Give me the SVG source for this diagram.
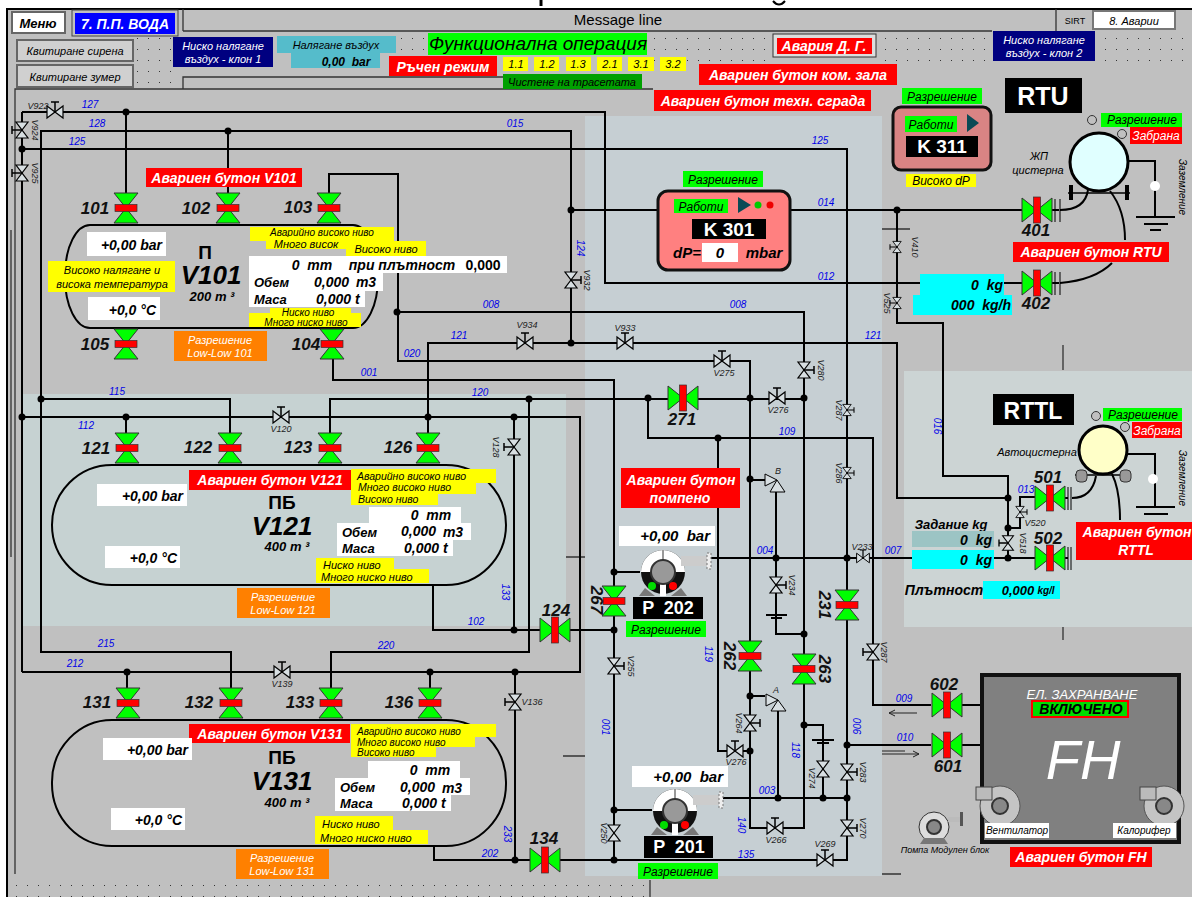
<svg xmlns="http://www.w3.org/2000/svg" width="1192" height="897" viewBox="0 0 1192 897">
<style>
text{font-family:"Liberation Sans",Arial,sans-serif;text-anchor:middle;fill:#000}
.i{font-style:italic}
.bi{font-style:italic;font-weight:bold}
.w{fill:#fff}
.r{text-anchor:end}
.l{text-anchor:start}
.b{font-size:10px;font-style:italic;fill:#0000e8}
.s{font-size:9px;fill:#222}
.n{font-size:17px;font-style:italic;font-weight:bold;fill:#111}
.red{fill:#f00}.yel{fill:#ff0}.grn{fill:#0f0}.wht{fill:#fff}.org{fill:#ff8000}.cya{fill:#0ff}.nav{fill:#000080}.tea{fill:#55bccb}
.p{fill:none;stroke:#000;stroke-width:2}
.j{fill:#000}
.tank{fill:none;stroke:#000;stroke-width:2}
</style>
<defs>
<pattern id="dots" width="11" height="11" patternUnits="userSpaceOnUse"><rect x="5" y="5" width="1" height="1" fill="#333"/></pattern>
<g id="vv"><polygon points="-12,-15 12,-15 0,0" fill="#0f0" stroke="#333"/><polygon points="-12,15 12,15 0,0" fill="#0f0" stroke="#333"/><rect x="-11" y="-3.5" width="22" height="7" fill="#f00" stroke="#333" stroke-width=".7"/></g>
<g id="hv"><polygon points="-15,-12 -15,12 0,0" fill="#0f0" stroke="#333"/><polygon points="15,-12 15,12 0,0" fill="#0f0" stroke="#333"/><rect x="-3.5" y="-13" width="7" height="26" fill="#f00" stroke="#333" stroke-width=".7"/></g>
<g id="sv"><polygon points="-8,-6 8,6 8,-6 -8,6" fill="#d8dfe2" stroke="#000" stroke-width="1.2"/><path d="M0,0V-10M-4,-10H4" stroke="#000" stroke-width="1.5"/></g>
<g id="sv0"><polygon points="-8,-6 8,6 8,-6 -8,6" fill="#d8dfe2" stroke="#000" stroke-width="1.2"/></g>
<g id="pump"><circle r="22" fill="#111"/><path d="M-22,0A22,22 0 0 1 22,0H12A12,12 0 0 0 -12,0Z" fill="#fff"/><rect x="-1" y="-22" width="2" height="10" fill="#999"/><polygon points="-18,16 -24,24 -8,24" fill="#777"/><polygon points="18,16 24,24 8,24" fill="#777"/><rect x="-3" y="10" width="6" height="14" fill="#fff"/><circle r="12" fill="#999" stroke="#333" stroke-width="2"/><circle cx="-11" cy="14" r="4" fill="#0d0"/><circle cx="10" cy="14" r="4" fill="#f00"/><rect x="18" y="-16" width="27" height="10" fill="#ccc"/><rect x="44" y="-19" width="4" height="16" fill="#eee" stroke="#777" stroke-dasharray="2 2"/></g>
<g id="fan"><circle r="20" fill="#c4c4c4" stroke="#555"/><circle r="8" fill="#888" stroke="#333" stroke-width="2"/><rect x="-24" y="-19" width="16" height="13" fill="#bbb" stroke="#444"/></g>
</defs>

<rect width="1192" height="897" fill="#fff"/>
<rect x="7" y="8" width="1185" height="889" fill="#c0c0c0"/>
<path d="M541,0V6" stroke="#000" stroke-width="3"/><path d="M773,1Q779,8 785,1" fill="none" stroke="#000" stroke-width="2"/>
<path d="M7,9H1192M7,8V897" stroke="#000" stroke-width="2" fill="none"/>
<rect x="585" y="116" width="297" height="760" fill="#c6cfd3"/>
<rect x="23" y="394" width="543" height="232" fill="#c6d2d2"/>
<rect x="904" y="371" width="288" height="256" fill="#ccd4d4"/>
<rect x="137" y="38" width="36" height="50" fill="url(#dots)"/>
<rect x="396" y="38" width="32" height="18" fill="url(#dots)"/>
<rect x="650" y="36" width="123" height="26" fill="url(#dots)"/>
<rect x="877" y="36" width="116" height="26" fill="url(#dots)"/>
<rect x="1097" y="34" width="95" height="28" fill="url(#dots)"/>
<rect x="12" y="880" width="638" height="17" fill="url(#dots)"/>
<path d="M183,31H992M183,9V31M1056,9V31M183,89V77H503M15,874V89H653M11,230V557M882,874H901M650,880V897M566,557H585M563,756H585M1063,345V370M1063,627V640M882,229H910" fill="none" stroke="#333" stroke-width="1.3"/>

<g id="connectors">
<path class="p" d="M22,112H605V283H1022"/>
<path class="p" d="M571,343V131H41V652H231V690"/>
<path class="p" d="M41,399H230V435"/>
<path class="p" d="M22,672V112M22,149H847V860H434V846"/>
<path class="p" d="M22,417H580V672H22"/>
<path class="p" d="M126,112V193M228,131V193"/>
<path class="p" d="M126,417V435M428,417V435M127,672V690M430,672V690"/>
<path class="p" d="M331,690V652H529V399M330,435V399H804"/>
<path class="p" d="M329,193V174H398V361H750V828H804V312H397"/>
<path class="p" d="M333,358V380H614V860"/>
<path class="p" d="M428,417V343H897V498H1008"/>
<path class="p" d="M571,210H1022"/>
<path class="p" d="M648,398V438H873V705H931"/>
<path class="p" d="M718,438V751H750"/>
<path class="p" d="M708,558H1035M776,490V634H804"/>
<path class="p" d="M750,480H766M750,696H765"/>
<path class="p" d="M778,710V798M721,798H846M823,798V725H804M846,745H931"/>
<path class="p" d="M897,210V323H943V476H1008V558"/>
<path class="p" d="M1008,528H1020V497H1035"/>
<path class="p" d="M433,585V630H614"/>
<path class="p" d="M514,417V630M515,672V860"/>
<path class="p" d="M614,572H640M614,810H652"/>
<path class="p" d="M962,705H982M962,745H982"/>
<path class="p" d="M1052,210H1059M1060,210Q1085,210 1088,190M1060,283Q1095,280 1112,263M1110,191Q1125,210 1125,240"/>
<path class="p" d="M1052,283H1059M1060,498H1068M1060,558H1068"/>
<path class="p" d="M1072,498Q1092,498 1096,476M1112,474Q1120,490 1120,520"/>
<path class="p" d="M1128,161H1155V217M1136,217H1175M1144,224H1168M1150,230H1161"/>
<path class="p" d="M1127,454H1155V507M1136,507H1175M1144,514H1168"/>
<path d="M1068,193H1130M1075,475H1130" stroke="#000" stroke-width="1.5"/>
<path d="M1071,185V200M1127,185V200" stroke="#000" stroke-width="4"/>
<path class="p" d="M766,615H787M771,618H782M812,740H834M817,743H829" />
<path d="M917,713H889l6,-3M889,713l6,3M882,754H919l-6,-3M919,754l-6,3M882,751H905" fill="none" stroke="#222"/>
<g class="j">
<circle cx="126" cy="112" r="3.5"/><circle cx="228" cy="131" r="3.5"/><circle cx="22" cy="149" r="3.5"/><circle cx="571" cy="210" r="3.5"/><circle cx="897" cy="210" r="3.5"/><circle cx="571" cy="343" r="3.5"/><circle cx="397" cy="312" r="3.5"/><circle cx="41" cy="399" r="3.5"/><circle cx="22" cy="417" r="3.5"/><circle cx="126" cy="417" r="3.5"/><circle cx="428" cy="417" r="3.5"/><circle cx="514" cy="417" r="3.5"/><circle cx="529" cy="399" r="3.5"/><circle cx="648" cy="398" r="3.5"/><circle cx="750" cy="398" r="3.5"/><circle cx="804" cy="398" r="3.5"/><circle cx="718" cy="438" r="3.5"/><circle cx="750" cy="479" r="3.5"/><circle cx="776" cy="558" r="3.5"/><circle cx="847" cy="558" r="3.5"/><circle cx="1008" cy="498" r="3.5"/><circle cx="1008" cy="528" r="3.5"/><circle cx="1008" cy="558" r="3.5"/><circle cx="514" cy="630" r="3.5"/><circle cx="614" cy="630" r="3.5"/><circle cx="614" cy="572" r="3.5"/><circle cx="804" cy="634" r="3.5"/><circle cx="127" cy="672" r="3.5"/><circle cx="430" cy="672" r="3.5"/><circle cx="515" cy="672" r="3.5"/><circle cx="750" cy="696" r="3.5"/><circle cx="804" cy="725" r="3.5"/><circle cx="847" cy="745" r="3.5"/><circle cx="750" cy="751" r="3.5"/><circle cx="778" cy="798" r="3.5"/><circle cx="823" cy="798" r="3.5"/><circle cx="847" cy="798" r="3.5"/><circle cx="614" cy="810" r="3.5"/><circle cx="515" cy="860" r="3.5"/><circle cx="614" cy="860" r="3.5"/>
</g>
</g>

<g id="pipe-labels">
<text class="b" x="90" y="108">127</text><text class="b" x="97" y="127">128</text><text class="b" x="77" y="145">125</text><text class="b" x="515" y="127">015</text><text class="b" x="820" y="144">125</text><text class="b" x="826" y="206">014</text><text class="b" x="826" y="280">012</text><text class="b" x="491" y="308">008</text><text class="b" x="738" y="308">008</text><text class="b" x="459" y="339">121</text><text class="b" x="873" y="339">121</text><text class="b" x="412" y="357">020</text><text class="b" x="369" y="376">001</text><text class="b" x="117" y="395">115</text><text class="b" x="480" y="396">120</text><text class="b" x="86" y="429">112</text><text class="b" x="787" y="435">109</text><text class="b" x="765" y="554">004</text><text class="b" x="893" y="554">007</text><text class="b" x="476" y="625">102</text><text class="b" x="106" y="647">215</text><text class="b" x="386" y="649">220</text><text class="b" x="75" y="667">212</text><text class="b" x="904" y="702">009</text><text class="b" x="905" y="741">010</text><text class="b" x="767" y="794">003</text><text class="b" x="746" y="858">135</text><text class="b" x="490" y="857">202</text><text class="b" x="1026" y="493">013</text>
<text class="b" transform="translate(577,248) rotate(90)">124</text><text class="b" transform="translate(934,426) rotate(90)">016</text><text class="b" transform="translate(502,592) rotate(90)">133</text><text class="b" transform="translate(705,654) rotate(90)">119</text><text class="b" transform="translate(602,727) rotate(90)">001</text><text class="b" transform="translate(792,750) rotate(90)">118</text><text class="b" transform="translate(853,726) rotate(90)">006</text><text class="b" transform="translate(738,825) rotate(90)">140</text><text class="b" transform="translate(504,834) rotate(90)">233</text>
</g>

<g id="small-valves">
<use href="#sv" transform="translate(55,112)"/><use href="#sv" transform="translate(22,130) rotate(-90)"/><use href="#sv" transform="translate(22,173) rotate(-90)"/>
<use href="#sv" transform="translate(571,280) rotate(90)"/><use href="#sv" transform="translate(525,343)"/><use href="#sv" transform="translate(625,343)"/>
<use href="#sv" transform="translate(722,361)"/><use href="#sv" transform="translate(777,398)"/><use href="#sv" transform="translate(804,370) rotate(90)"/>
<use href="#sv" transform="translate(847,410) rotate(90) scale(.7)"/><use href="#sv" transform="translate(847,473) rotate(90) scale(.7)"/><use href="#sv" transform="translate(863,558) scale(.8)"/>
<use href="#sv" transform="translate(281,417)"/><use href="#sv" transform="translate(282,672)"/><use href="#sv" transform="translate(514,447) rotate(-90)"/><use href="#sv" transform="translate(515,702) rotate(-90)"/>
<use href="#sv" transform="translate(897,247) rotate(-90) scale(.7)"/><use href="#sv" transform="translate(897,303) rotate(-90) scale(.7)"/><use href="#sv" transform="translate(1020,512) rotate(90) scale(.7)"/><use href="#sv" transform="translate(1008,543) rotate(-90) scale(.9)"/>
<use href="#sv" transform="translate(776,585) rotate(90)"/><use href="#sv" transform="translate(614,666) rotate(90)"/><use href="#sv" transform="translate(750,723) rotate(90)"/><use href="#sv" transform="translate(735,751)"/>
<use href="#sv0" transform="translate(823,769) rotate(90)"/><use href="#sv" transform="translate(847,772) rotate(90)"/><use href="#sv" transform="translate(847,828) rotate(90)"/><use href="#sv" transform="translate(825,860)"/><use href="#sv" transform="translate(775,828)"/><use href="#sv0" transform="translate(614,833) rotate(90)"/><use href="#sv" transform="translate(873,652) rotate(-90)"/>
<polygon points="765,474 765,486 777,480" fill="#d8dfe2" stroke="#000"/><polygon points="777,480 770,492 785,492" fill="#d8dfe2" stroke="#000"/>
<polygon points="766,694 766,706 778,700" fill="#d8dfe2" stroke="#000"/><polygon points="778,700 771,711 786,711" fill="#d8dfe2" stroke="#000"/>
<text class="s i" x="778" y="474">В</text><text class="s i" x="776" y="693">А</text>
<g class="s i">
<text class="s" x="38" y="109">V922</text><text class="s" transform="translate(32,130) rotate(90)">V924</text><text class="s" transform="translate(32,173) rotate(90)">V925</text><text class="s" transform="translate(584,280) rotate(90)">V932</text><text class="s" x="527" y="328">V934</text><text class="s" x="625" y="331">V933</text><text class="s" x="724" y="376">V275</text><text class="s" x="778" y="413">V276</text><text class="s" transform="translate(818,370) rotate(90)">V280</text><text class="s" transform="translate(836,410) rotate(90)">V287</text><text class="s" transform="translate(836,473) rotate(90)">V286</text><text class="s" x="862" y="550">V233</text><text class="s" x="281" y="432">V120</text><text class="s" transform="translate(493,447) rotate(90)">V128</text><text class="s" x="282" y="687">V139</text><text class="s" x="532" y="705">V136</text><text class="s" transform="translate(912,247) rotate(90)">V410</text><text class="s" transform="translate(884,303) rotate(90)">V525</text><text class="s" x="1035" y="526">V520</text><text class="s" transform="translate(1020,543) rotate(90)">V518</text><text class="s" transform="translate(789,585) rotate(90)">V234</text><text class="s" transform="translate(628,666) rotate(90)">V255</text><text class="s" transform="translate(736,723) rotate(90)">V264</text><text class="s" x="736" y="765">V276</text><text class="s" transform="translate(809,778) rotate(90)">V274</text><text class="s" transform="translate(860,772) rotate(90)">V283</text><text class="s" transform="translate(860,828) rotate(90)">V270</text><text class="s" x="825" y="847">V269</text><text class="s" x="776" y="843">V266</text><text class="s" transform="translate(601,833) rotate(90)">V250</text><text class="s" transform="translate(881,652) rotate(90)">V287</text>
</g>
</g>

<g id="header">
<g id="msg"><text x="618" y="25" font-size="15" fill="#333">Message line</text></g>
<g id="menu"><rect x="12" y="12" width="53" height="21" fill="#fff" stroke="#666" stroke-width="2"/><text class="bi" x="38" y="28" font-size="13">Меню</text></g>
<g id="screen"><rect x="72" y="10" width="106" height="26" fill="#c0c0c0" stroke="#444"/><rect x="75" y="13" width="100" height="21" fill="#00f"/><text class="bi w" x="125" y="29" font-size="14">7. П.П. ВОДА</text></g>
<g id="btn-siren"><rect x="17" y="40" width="116" height="21" fill="#d0d0d0" stroke="#666" stroke-width="2"/><text class="i" x="75" y="55" font-size="11">Квитиране сирена</text></g>
<g id="btn-buzzer"><rect x="17" y="65" width="116" height="22" fill="#d0d0d0" stroke="#666" stroke-width="2"/><text class="i" x="75" y="81" font-size="11">Квитиране зумер</text></g>
<g id="lowair1"><rect class="nav" x="173" y="37" width="100" height="30"/><text class="i w" x="223" y="50" font-size="11">Ниско налягане</text><text class="i w" x="223" y="63" font-size="11">въздух - клон 1</text></g>
<g id="air"><rect class="tea" x="277" y="36" width="119" height="17"/><rect class="tea" x="291" y="52" width="89" height="16"/><text class="i" x="336" y="49" font-size="11">Налягане въздух</text><text class="bi" x="346" y="66" font-size="12" xml:space="preserve">0,00  bar</text></g>
<g id="func"><rect class="grn" x="428" y="33" width="219" height="22"/><text class="i" x="538" y="50" font-size="19" fill="#063">Функционална операция</text></g>
<g id="manual"><rect class="red" x="389" y="56" width="108" height="20"/><text class="bi w" x="443" y="72" font-size="14">Ръчен режим</text></g>
<g id="chips">
<rect class="yel" x="503" y="57" width="25" height="14"/><text class="i" x="516" y="68" font-size="11">1.1</text>
<rect class="yel" x="534" y="57" width="25" height="14"/><text class="i" x="547" y="68" font-size="11">1.2</text>
<rect class="yel" x="566" y="57" width="25" height="14"/><text class="i" x="578" y="68" font-size="11">1.3</text>
<rect class="yel" x="597" y="57" width="25" height="14"/><text class="i" x="610" y="68" font-size="11">2.1</text>
<rect class="yel" x="628" y="57" width="26" height="14"/><text class="i" x="641" y="68" font-size="11">3.1</text>
<rect class="yel" x="660" y="57" width="26" height="14"/><text class="i" x="673" y="68" font-size="11">3.2</text>
</g>
<g id="clean"><rect x="503" y="74" width="139" height="15" fill="#00a000"/><text class="i" x="572" y="86" font-size="11">Чистене на трасетата</text></g>
<g id="dg"><rect x="773" y="34" width="103" height="23" fill="#ddd" stroke="#333"/><rect class="red" x="777" y="38" width="95" height="16"/><text class="bi w" x="824" y="51" font-size="14">Авария Д. Г.</text></g>
<g id="eb-room"><rect class="red" x="699" y="64" width="198" height="21"/><text class="bi w" x="798" y="80" font-size="14">Авариен бутон ком. зала</text></g>
<g id="eb-bld"><rect class="red" x="654" y="90" width="217" height="21"/><text class="bi w" x="763" y="106" font-size="14">Авариен бутон техн. сграда</text></g>
<g id="lowair2"><rect class="nav" x="993" y="31" width="102" height="30"/><text class="i w" x="1044" y="44" font-size="11">Ниско налягане</text><text class="i w" x="1044" y="57" font-size="11">въздух - клон 2</text></g>
<g id="sirt"><text x="1075" y="24" font-size="9">SIRT</text><rect x="1093" y="11" width="82" height="18" fill="#fff" stroke="#777" stroke-width="2"/><text class="i" x="1134" y="25" font-size="11">8. Аварии</text></g>
</g>

<g id="V101">
<rect class="tank" x="65" y="225" width="313" height="103" rx="25" ry="50"/>
<rect class="red" x="146" y="168" width="156" height="19"/><text class="bi w" x="224" y="183" font-size="14">Авариен бутон V101</text>
<rect class="wht" x="87" y="232" width="79" height="24"/><text class="bi r" x="162" y="250" font-size="14">+0,00 bar</text>
<text x="205" y="259" font-size="19" font-weight="bold">П</text><text class="bi" x="211" y="284" font-size="26">V101</text><text class="bi" x="212" y="301" font-size="13">200 m ³</text>
<rect class="yel" x="48" y="261" width="127" height="31"/><text class="i" x="112" y="274" font-size="11">Високо налягане и</text><text class="i" x="112" y="288" font-size="11">висока температура</text>
<rect class="yel" x="250" y="227" width="144" height="14"/><text class="i" x="322" y="236" font-size="10">Аварийно високо ниво</text>
<rect class="yel" x="266" y="237" width="80" height="12"/><text class="i" x="306" y="248" font-size="11">Много висок</text>
<rect class="yel" x="346" y="241" width="80" height="15"/><text class="i" x="386" y="253" font-size="11">Високо ниво</text>
<rect class="wht" x="249" y="256" width="258" height="17"/><text class="bi" x="312" y="270" font-size="14" xml:space="preserve">0  mm</text><text class="bi" x="402" y="270" font-size="14">при плътност</text><text font-weight="bold" x="483" y="270" font-size="14">0,000</text>
<rect class="wht" x="249" y="273" width="134" height="18"/><rect class="wht" x="249" y="291" width="116" height="16"/>
<text class="bi l" x="254" y="287" font-size="13">Обем</text><text class="bi l" x="314" y="287" font-size="14">0,000</text><text class="bi" x="366" y="287" font-size="14">m3</text><text class="bi l" x="254" y="304" font-size="13">Маса</text><text class="bi l" x="316" y="304" font-size="14">0,000 t</text>
<rect class="wht" x="88" y="297" width="72" height="23"/><text class="bi r" x="156" y="315" font-size="14">+0,0 °C</text>
<rect class="yel" x="249" y="313" width="112" height="14"/><text class="i" x="306" y="326" font-size="10">Много ниско ниво</text>
<rect class="yel" x="270" y="308" width="81" height="10"/><text class="i" x="308" y="316" font-size="10">Ниско ниво</text>
<rect class="org" x="174" y="331" width="93" height="30"/><text class="i w" x="220" y="344" font-size="11">Разрешение</text><text class="i w" x="220" y="357" font-size="11">Low-Low 101</text>
</g>
<g id="valve-101"><use href="#vv" x="126" y="208"/><text class="n" x="95" y="214">101</text></g>
<g id="valve-102"><use href="#vv" x="228" y="208"/><text class="n" x="196" y="214">102</text></g>
<g id="valve-103"><use href="#vv" x="329" y="208"/><text class="n" x="298" y="213">103</text></g>
<g id="valve-105"><use href="#vv" x="126" y="344"/><text class="n" x="95" y="350">105</text></g>
<g id="valve-104"><use href="#vv" x="332" y="344"/><text class="n" x="306" y="350">104</text></g>

<g id="V121">
<rect class="tank" x="52" y="465" width="454" height="120" rx="60" ry="60"/>
<rect class="red" x="189" y="470" width="162" height="20"/><text class="bi w" x="270" y="485" font-size="14">Авариен бутон V121</text>
<rect class="yel" x="351" y="469" width="145" height="14"/><rect class="yel" x="351" y="483" width="125" height="11"/><rect class="yel" x="351" y="493" width="87" height="12"/>
<text class="i l" x="357" y="480" font-size="10.5">Аварийно високо ниво</text><text class="i l" x="358" y="491" font-size="10.5">Много високо ниво</text><text class="i l" x="358" y="503" font-size="10.5">Високо ниво</text>
<rect class="wht" x="369" y="507" width="92" height="16"/><rect class="wht" x="337" y="523" width="134" height="17"/><rect class="wht" x="337" y="540" width="116" height="16"/>
<text class="bi" x="431" y="520" font-size="14" xml:space="preserve">0  mm</text><text class="bi l" x="342" y="537" font-size="13">Обем</text><text class="bi l" x="401" y="536" font-size="14">0,000</text><text class="bi" x="453" y="537" font-size="14">m3</text><text class="bi l" x="342" y="553" font-size="13">Маса</text><text class="bi l" x="404" y="553" font-size="14">0,000 t</text>
<rect class="wht" x="97" y="484" width="90" height="22"/><text class="bi r" x="183" y="501" font-size="14">+0,00 bar</text>
<rect class="wht" x="105" y="546" width="75" height="22"/><text class="bi r" x="177" y="563" font-size="14">+0,0 °C</text>
<text x="282" y="509" font-size="19" font-weight="bold">ПБ</text><text class="bi" x="282" y="535" font-size="26">V121</text><text class="bi" x="287" y="551" font-size="13">400 m ³</text>
<rect class="yel" x="316" y="558" width="78" height="12"/><rect class="yel" x="316" y="569" width="113" height="14"/><text class="i l" x="323" y="569" font-size="11">Ниско ниво</text><text class="i l" x="321" y="581" font-size="11">Много ниско ниво</text>
<rect class="org" x="237" y="588" width="93" height="30"/><text class="i w" x="283" y="601" font-size="11">Разрешение</text><text class="i w" x="283" y="614" font-size="11">Low-Low 121</text>
</g>
<g id="valve-121"><use href="#vv" x="127" y="448"/><text class="n" x="96" y="454">121</text></g>
<g id="valve-122"><use href="#vv" x="230" y="448"/><text class="n" x="198" y="453">122</text></g>
<g id="valve-123"><use href="#vv" x="330" y="448"/><text class="n" x="298" y="453">123</text></g>
<g id="valve-126"><use href="#vv" x="428" y="448"/><text class="n" x="398" y="453">126</text></g>

<g id="V131">
<rect class="tank" x="52" y="720" width="454" height="126" rx="60" ry="62"/>
<rect class="red" x="189" y="724" width="161" height="19"/><text class="bi w" x="270" y="739" font-size="14">Авариен бутон V131</text>
<rect class="yel" x="351" y="724" width="145" height="13"/><rect class="yel" x="351" y="737" width="124" height="10"/><rect class="yel" x="351" y="747" width="85" height="10"/>
<text class="i l" x="357" y="735" font-size="10">Аварийно високо ниво</text><text class="i l" x="357" y="745.5" font-size="10">Много високо ниво</text><text class="i l" x="357" y="756" font-size="10">Високо ниво</text>
<rect class="wht" x="368" y="761" width="92" height="17"/><rect class="wht" x="335" y="778" width="135" height="17"/><rect class="wht" x="335" y="795" width="116" height="16"/>
<text class="bi" x="430" y="775" font-size="14" xml:space="preserve">0  mm</text><text class="bi l" x="340" y="792" font-size="13">Обем</text><text class="bi l" x="400" y="792" font-size="14">0,000</text><text class="bi" x="452" y="793" font-size="14">m3</text><text class="bi l" x="340" y="808" font-size="13">Маса</text><text class="bi l" x="402" y="808" font-size="14">0,000 t</text>
<rect class="wht" x="103" y="738" width="89" height="22"/><text class="bi r" x="188" y="755" font-size="14">+0,00 bar</text>
<rect class="wht" x="111" y="808" width="74" height="22"/><text class="bi r" x="182" y="825" font-size="14">+0,0 °C</text>
<text x="282" y="764" font-size="19" font-weight="bold">ПБ</text><text class="bi" x="282" y="790" font-size="26">V131</text><text class="bi" x="287" y="807" font-size="13">400 m ³</text>
<rect class="yel" x="315" y="816" width="78" height="14"/><rect class="yel" x="315" y="830" width="113" height="14"/><text class="i l" x="322" y="828" font-size="11">Ниско ниво</text><text class="i l" x="320" y="842" font-size="11">Много ниско ниво</text>
<rect class="org" x="236" y="849" width="93" height="30"/><text class="i w" x="282" y="862" font-size="11">Разрешение</text><text class="i w" x="282" y="875" font-size="11">Low-Low 131</text>
</g>
<g id="valve-131"><use href="#vv" x="128" y="703"/><text class="n" x="97" y="708">131</text></g>
<g id="valve-132"><use href="#vv" x="231" y="703"/><text class="n" x="199" y="708">132</text></g>
<g id="valve-133"><use href="#vv" x="331" y="703"/><text class="n" x="300" y="708">133</text></g>
<g id="valve-136"><use href="#vv" x="430" y="703"/><text class="n" x="399" y="708">136</text></g>

<g id="valve-124"><use href="#hv" x="555" y="630"/><text class="n" x="556" y="616">124</text></g>
<g id="valve-134"><use href="#hv" x="545" y="860"/><text class="n" x="544" y="844">134</text></g>
<g id="valve-271"><use href="#hv" x="683" y="398"/><text class="n" x="682" y="425">271</text></g>
<g id="valve-267"><use href="#vv" x="614" y="601"/><text class="n" transform="translate(591,600) rotate(90)">267</text></g>
<g id="valve-262"><use href="#vv" x="750" y="656"/><text class="n" transform="translate(724,656) rotate(90)">262</text></g>
<g id="valve-263"><use href="#vv" x="804" y="669"/><text class="n" transform="translate(819,669) rotate(90)">263</text></g>
<g id="valve-231"><use href="#vv" x="847" y="605"/><text class="n" transform="translate(819,605) rotate(90)">231</text></g>
<g id="valve-401"><use href="#hv" x="1037" y="210"/><text class="n" x="1036" y="236">401</text></g>
<g id="valve-402"><use href="#hv" x="1037" y="283"/><text class="n" x="1036" y="309">402</text></g>
<g id="valve-501"><use href="#hv" x="1050" y="498"/><text class="n" x="1048" y="483">501</text></g>
<g id="valve-502"><use href="#hv" x="1050" y="558"/><text class="n" x="1048" y="544">502</text></g>
<g id="valve-602"><use href="#hv" x="947" y="705"/><text class="n" x="944" y="690">602</text></g>
<g id="valve-601"><use href="#hv" x="947" y="745"/><text class="n" x="948" y="772">601</text></g>

<g id="K301">
<rect x="683" y="171" width="80" height="16" class="grn"/><text class="i" x="723" y="184" font-size="12">Разрешение</text>
<rect x="658" y="191" width="132" height="79" rx="10" fill="#ff8080" stroke="#111" stroke-width="3"/>
<rect x="674" y="199" width="54" height="14" class="grn"/><text class="i" x="701" y="211" font-size="12">Работи</text>
<polygon points="738,197 751,205 738,213" fill="#0a4a55"/><circle cx="758" cy="205" r="3.5" fill="#0c0"/><circle cx="770" cy="205" r="3.5" fill="#e00"/>
<rect x="692" y="219" width="74" height="20" fill="#000"/><text x="729" y="236" font-size="19" font-weight="bold" class="w">K 301</text>
<text class="bi" x="687" y="258" font-size="15">dP=</text><rect class="wht" x="702" y="243" width="36" height="19"/><text class="bi" x="720" y="258" font-size="15">0</text><text class="bi" x="764" y="258" font-size="15">mbar</text>
</g>
<g id="K311">
<rect x="902" y="88" width="80" height="16" class="grn"/><text class="i" x="942" y="101" font-size="12">Разрешение</text>
<rect x="893" y="107" width="98" height="63" rx="8" fill="#d98484" stroke="#111" stroke-width="3"/>
<rect x="905" y="116" width="52" height="16" class="grn"/><text class="i" x="931" y="129" font-size="12">Работи</text>
<polygon points="967,114 979,123 967,132" fill="#0a4a55"/>
<rect x="906" y="136" width="72" height="21" fill="#000"/><text x="942" y="153" font-size="19" font-weight="bold" class="w">K 311</text>
<rect class="yel" x="906" y="174" width="70" height="13"/><text class="i" x="941" y="185" font-size="12">Високо dP</text>
</g>
<g id="RTU">
<rect x="1005" y="78" width="77" height="35" fill="#000"/><text x="1043" y="105" font-size="25" font-weight="bold" class="w">RTU</text>
<circle cx="1092" cy="120" r="4.5" fill="#c0c0c0" stroke="#333"/><rect class="grn" x="1101" y="113" width="81" height="14"/><text class="i" x="1142" y="124" font-size="12">Разрешение</text>
<circle cx="1122" cy="134" r="4.5" fill="#c0c0c0" stroke="#333"/><rect class="red" x="1130" y="127" width="52" height="17"/><text class="i w" x="1156" y="140" font-size="12">Забрана</text>
<circle cx="1099" cy="162" r="29" fill="#e0ffff" stroke="#000" stroke-width="3"/>
<text class="i" x="1039" y="160" font-size="11">ЖП</text><text class="i" x="1038" y="174" font-size="11">цистерна</text>
<circle cx="1155" cy="186" r="5" fill="#fff"/><text class="i" font-size="10" transform="translate(1179,187) rotate(90)">Заземление</text>
<rect class="red" x="1013" y="242" width="156" height="20"/><text class="bi w" x="1091" y="257" font-size="14">Авариен бутон RTU</text>
<path d="M1060,199v23M1055,199v23M1060,272v23M1055,272v23" stroke="#000"/>
<rect class="cya" x="920" y="274" width="84" height="21"/><text class="bi" x="1003" y="290" font-size="14" style="text-anchor:end" xml:space="preserve">0  kg</text>
<rect class="cya" x="913" y="295" width="99" height="20"/><text class="bi" x="1011" y="310" font-size="14" style="text-anchor:end" xml:space="preserve">000  kg/h</text>
</g>
<g id="RTTL">
<rect x="993" y="394" width="81" height="31" fill="#000"/><text x="1033" y="419" font-size="23" font-weight="bold" class="w">RTTL</text>
<circle cx="1096" cy="416" r="4.5" fill="#c0c0c0" stroke="#333"/><rect class="grn" x="1103" y="408" width="79" height="13"/><text class="i" x="1143" y="419" font-size="12">Разрешение</text>
<circle cx="1125" cy="427" r="4.5" fill="#c0c0c0" stroke="#333"/><rect class="red" x="1132" y="422" width="50" height="16"/><text class="i w" x="1157" y="435" font-size="12">Забрана</text>
<circle cx="1103" cy="450" r="24" fill="#ffffc8" stroke="#000" stroke-width="3"/>
<text class="i" x="1037" y="456" font-size="11">Автоцистерна</text>
<rect x="1076" y="470" width="11" height="12" rx="4" fill="#999" stroke="#333"/><rect x="1120" y="470" width="11" height="12" rx="4" fill="#999" stroke="#333"/>
<circle cx="1153" cy="479" r="5" fill="#fff"/><text class="i" font-size="10" transform="translate(1179,478) rotate(90)">Заземление</text>
<rect class="red" x="1076" y="522" width="116" height="38"/><text class="bi w" x="1137" y="537" font-size="14">Авариен бутон</text><text class="bi w" x="1136" y="555" font-size="14">RTTL</text>
<text class="bi" x="951" y="529" font-size="13">Задание kg</text>
<rect x="912" y="531" width="82" height="16" fill="#9cc4c4"/><text class="bi" x="992" y="545" font-size="14" style="text-anchor:end" xml:space="preserve">0  kg</text>
<rect class="cya" x="912" y="550" width="82" height="19"/><text class="bi" x="992" y="565" font-size="14" style="text-anchor:end" xml:space="preserve">0  kg</text>
<text class="bi" x="944" y="595" font-size="14">Плътност</text>
<rect class="cya" x="983" y="581" width="77" height="18"/><text class="bi" x="1018" y="595" font-size="13">0,000</text><text class="bi" x="1046" y="594" font-size="10">kg/l</text>
<path d="M1068,487v23M1071,487v23M1068,547v23M1071,547v23" stroke="#000"/>
</g>
<g id="pumps-eb"><rect class="red" x="621" y="468" width="119" height="40"/><text class="bi w" x="681" y="485" font-size="14">Авариен бутон</text><text class="bi w" x="680" y="503" font-size="14">помпено</text></g>
<g id="P202">
<rect class="wht" x="619" y="526" width="96" height="20"/><text class="bi r" x="710" y="541" font-size="15" xml:space="preserve">+0,00  bar</text>
<use href="#pump" x="663" y="572"/>
<rect x="633" y="597" width="70" height="22" fill="#000"/><text x="668" y="614" font-size="18" font-weight="bold" class="w" xml:space="preserve">P  202</text>
<rect class="grn" x="626" y="621" width="80" height="16"/><text class="i" x="666" y="634" font-size="12">Разрешение</text>
</g>
<g id="P201">
<rect class="wht" x="632" y="766" width="96" height="21"/><text class="bi r" x="723" y="782" font-size="15" xml:space="preserve">+0,00  bar</text>
<use href="#pump" x="675" y="811"/>
<rect x="644" y="836" width="69" height="22" fill="#000"/><text x="679" y="853" font-size="18" font-weight="bold" class="w" xml:space="preserve">P  201</text>
<rect class="grn" x="638" y="863" width="80" height="16"/><text class="i" x="678" y="876" font-size="12">Разрешение</text>
</g>
<g id="FH">
<rect x="982" y="675" width="197" height="167" fill="#808080" stroke="#111" stroke-width="4"/>
<text class="i w" x="1082" y="699" font-size="13">ЕЛ. ЗАХРАНВАНЕ</text>
<rect x="1032" y="701" width="96" height="16" fill="#0d0" stroke="#f00" stroke-width="2"/><text class="bi" x="1081" y="714" font-size="14" fill="#030">ВКЛЮЧЕНО</text>
<text class="i w" x="1083" y="779" font-size="56">FH</text>
<use href="#fan" x="1000" y="806"/><use href="#fan" x="1164" y="806"/>
<rect class="wht" x="985" y="823" width="64" height="15"/><text class="i" x="1017" y="834" font-size="10">Вентилатор</text>
<rect class="wht" x="1113" y="823" width="63" height="15"/><text class="i" x="1144" y="834" font-size="10">Калорифер</text>
</g>
<g id="FH-eb"><rect class="red" x="1010" y="847" width="142" height="20"/><text class="bi w" x="1081" y="862" font-size="14">Авариен бутон FH</text></g>
<g id="pump-module">
<circle cx="934" cy="827" r="15" fill="#ddd" stroke="#333"/><circle cx="934" cy="827" r="7" fill="#888" stroke="#333" stroke-width="2"/><rect x="948" y="817" width="12" height="5" fill="#bbb"/><rect x="960" y="812" width="3" height="14" fill="#555"/><polygon points="924,838 944,838 948,844 920,844" fill="#777"/>
<text class="i" x="945" y="853" font-size="9">Помпа Модулен блок</text>
</g>
</svg>
